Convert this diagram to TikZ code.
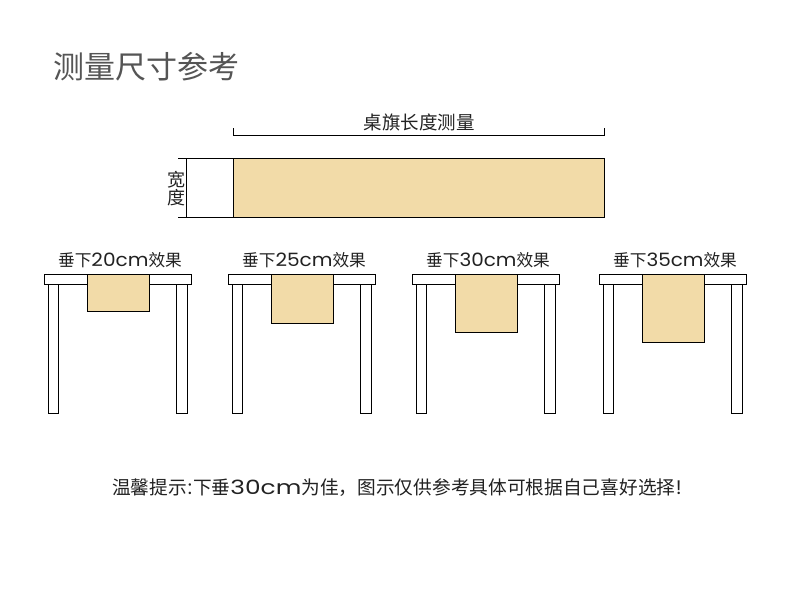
\documentclass[tikz,border=0pt]{standalone}
\usepackage{fontspec}
\usepackage{graphicx}
\setmainfont{Noto Sans CJK SC}
\newfontfamily\lat[Scale=1.1]{Poppins}
\newfontfamily\latb[Scale=1.05]{Poppins}
\newcommand\widelat[2]{\resizebox{#1}{\height}{\lat #2}}
\definecolor{runner}{RGB}{242,219,168}
\definecolor{titlegray}{RGB}{85,85,85}
\definecolor{txt}{RGB}{34,34,34}
\tikzset{
  edge/.style={draw=black,line width=1pt},
  runnerbox/.style={edge,fill=runner},
  plain/.style={edge,fill=white},
  lbl/.style={inner sep=0pt,text=txt,font=\fontsize{16.7}{20}\selectfont},
}
\newcommand\mytable[4]{%
  % #1 left x, #2 runner bottom, #3 label, #4 name
  \draw[plain] (#1+4,284) rectangle (#1+14,413);
  \draw[plain] (#1+132,284) rectangle (#1+143,413);
  \draw[plain] (#1,274) rectangle (#1+147,284);
  \draw[runnerbox] (#1+43,274) rectangle (#1+105,#2);
  \node[lbl] (#4) at (#1+76,260) {垂下\widelat{57pt}{#3}效果};
}
\begin{document}
\begin{tikzpicture}[x=1pt,y=-1pt]
\useasboundingbox (0,0) rectangle (790,600);
\fill[white] (0,0) rectangle (790,600);
\node[inner sep=0pt,text=titlegray,font=\fontsize{31}{34}\selectfont,anchor=west] (title) at (53,67) {测量尺寸参考};
% flag length measure
\coordinate (lt) at (233,128);
\coordinate (rt) at (604,128);
\draw[edge] (lt) -- (233,135) -- (604,135) -- (rt);
\node[lbl,font=\fontsize{18.5}{20}\selectfont] (lenlbl) at (419,122) {桌旗长度测量};
\draw[runnerbox] (233,158) rectangle (604,217);
\draw[edge] (178,158) -- (233,158);
\draw[edge] (178,217) -- (233,217);
\draw[edge] (186,158) -- (186,217);
\node[lbl,font=\fontsize{18}{18}\selectfont,align=center] (widlbl) at (176,189) {宽\\度};
\mytable{44}{311}{20cm}{t1}
\mytable{228}{323}{25cm}{t2}
\mytable{412}{332}{30cm}{t3}
\mytable{599}{342}{35cm}{t4}
\node[lbl,font=\fontsize{18.7}{22}\selectfont,anchor=west] (note) at (112,488) {温馨提示\makebox[6pt]{\latb :}下垂\resizebox{71pt}{\height}{\latb 30cm}为佳，图示仅供参考具体可根据自己喜好选择\makebox[7pt]{\latb !}};
\end{tikzpicture}
\end{document}
